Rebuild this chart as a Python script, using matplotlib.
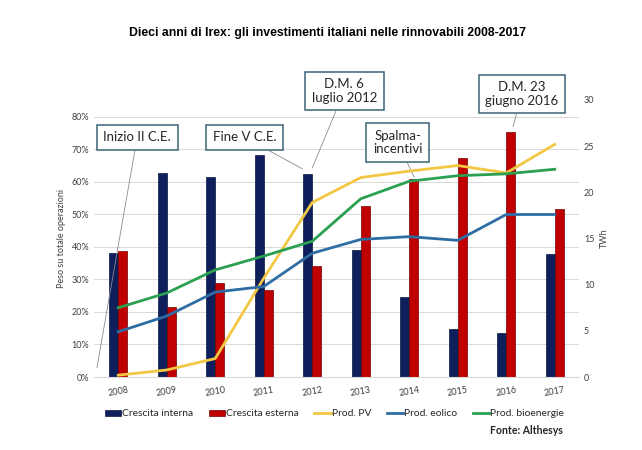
import numpy as np
import matplotlib.pyplot as plt
from matplotlib.lines import Line2D
from matplotlib.patches import Patch
from matplotlib.ticker import PercentFormatter

years = ["2008", "2009", "2010", "2011", "2012", "2013", "2014", "2015", "2016", "2017"]

# share of total operations (%)
crescita_interna = [38.1, 62.7, 61.4, 68.3, 62.5, 39.0, 24.7, 14.7, 13.6, 37.8]
crescita_esterna = [38.9, 21.4, 28.8, 26.8, 34.2, 52.7, 60.9, 67.3, 75.5, 51.7]

# production (TWh)
prod_pv = [0.2, 0.76, 2.0, 10.7, 18.9, 21.6, 22.3, 22.9, 22.1, 25.2]
prod_eolico = [4.9, 6.6, 9.2, 9.8, 13.4, 14.9, 15.2, 14.8, 17.6, 17.6]
prod_bio = [7.5, 9.1, 11.6, 13.1, 14.7, 19.3, 21.2, 21.8, 22.0, 22.5]

c_navy = "#0E1F5B"
c_red = "#C00000"
c_pv = "#F2C744"
c_eol = "#2E6DA4"
c_bio = "#2AA050"
c_box = "#3A6478"
c_tick = "#404040"

plt.rcParams['font.family'] = ['Lato', 'DejaVu Sans']

fig = plt.figure(figsize=(6.42, 4.5), dpi=100)
ax = fig.add_axes([0.1464, 0.1622, 0.7555, 0.6156])
ax2 = ax.twinx()

x = np.arange(len(years))
w = 0.185
ax.bar(x - w / 2, crescita_interna, w, color=c_navy, edgecolor="#0A1640", linewidth=0.5, zorder=2)
ax.bar(x + w / 2, crescita_esterna, w, color=c_red, edgecolor="#700000", linewidth=0.5, zorder=2)

ax2.plot(x, prod_pv, color=c_pv, lw=2)
ax2.plot(x, prod_eolico, color=c_eol, lw=2)
ax2.plot(x, prod_bio, color=c_bio, lw=2)

ax.set_xlim(-0.5, 9.5)
ax.set_ylim(0, 85.2)
ax.set_yticks(range(0, 81, 10))
ax.yaxis.set_major_formatter(PercentFormatter(decimals=0))
ax2.set_ylim(0, 30)
ax2.set_yticks(range(0, 31, 5))

ax.grid(axis='y', color="#D9D9D9", lw=0.7, zorder=0)
ax.set_axisbelow(True)
for a in (ax, ax2):
    for s in a.spines.values():
        s.set_visible(False)
    a.tick_params(length=0, labelsize=6.5, colors=c_tick)
ax.spines['bottom'].set_visible(True)
ax.spines['bottom'].set_color("#D9D9D9")

ax.set_xticks(x)
ax.set_xticklabels(years, rotation=10, fontsize=6.5)
ax.tick_params(axis='x', pad=6)
ax.set_ylabel("Peso su totale operazioni", fontsize=6.5, color=c_tick, labelpad=4)
ax2.set_ylabel("TWh", fontsize=6.5, color=c_tick, labelpad=4)

fig.text(0.51, 0.927, "Dieci anni di Irex: gli investimenti italiani nelle rinnovabili 2008-2017",
         ha='center', va='center', fontsize=8.8, fontweight='bold', family='Liberation Sans')

box = dict(boxstyle='square,pad=0.5', fc='white', ec=c_box, lw=1.1)
arrow = dict(arrowstyle='-', color='#8C8C8C', lw=0.6, shrinkA=0, shrinkB=0)
notes = [
    ("Inizio II C.E.", (-0.44, 2.8), (0.39, 73.7)),
    ("Fine V C.E.", (3.8, 64.0), (2.61, 73.7)),
    ("D.M. 6\nluglio 2012", (4.0, 64.3), (4.66, 88.0)),
    ("Spalma-\nincentivi", (6.1, 61.5), (5.76, 72.2)),
    ("D.M. 23\ngiugno 2016", (8.14, 77.0), (8.32, 87.0)),
]
for label, xy, xyt in notes:
    ax.annotate(label, xy=xy, xytext=xyt, ha='center', va='center', fontsize=9.5,
                linespacing=1.15, color='#262626', bbox=box, arrowprops=arrow,
                annotation_clip=False, zorder=5)

handles = [
    Patch(facecolor=c_navy, edgecolor="#0A1640", lw=0.5),
    Patch(facecolor=c_red, edgecolor="#700000", lw=0.5),
    Line2D([], [], color=c_pv, lw=2),
    Line2D([], [], color=c_eol, lw=2),
    Line2D([], [], color=c_bio, lw=2),
]
labels = ["Crescita interna", "Crescita esterna", "Prod. PV", "Prod. eolico", "Prod. bioenergie"]
leg = fig.legend(handles, labels, loc='center', bbox_to_anchor=(0.521, 0.08), ncol=5, frameon=False,
                 fontsize=7.4, handlelength=1.6, handleheight=0.6, handletextpad=0.1, columnspacing=1.5)
for t in leg.get_texts():
    t.set_color("#262626")

fig.text(0.877, 0.044, "Fonte: Althesys", ha='right', va='center', fontsize=7.6, fontweight='bold',
         color="#262626")

fig.savefig("out.png", dpi=100, facecolor='white')
